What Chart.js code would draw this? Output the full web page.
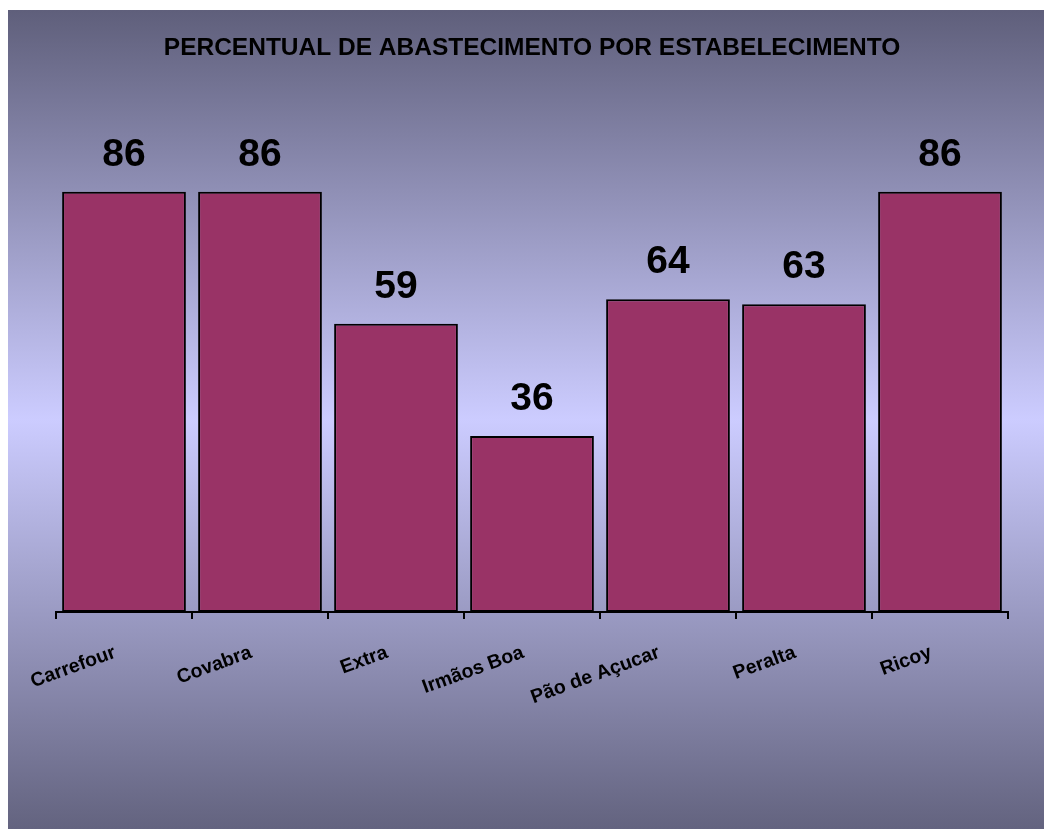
<meta charset="utf-8">
<title>Percentual de abastecimento</title>
<script src=https://cdn.jsdelivr.net/npm/chart.js@4.4.1/dist/chart.umd.min.js></script>
<style>
body{margin:0;background:#fff}
#wrap{position:absolute;left:8px;top:10px;width:1036px;height:819px}
</style>
<div id=wrap><canvas id="myChart"></canvas></div>
<script>
var lojas = ['Carrefour','Covabra','Extra','Irmãos Boa','Pão de Açucar','Peralta','Ricoy'];
var percentual = [86,86,59,36,64,63,86];
var yMin = 0, yMax = 100;

// fundo degradê e rótulos de valor
var fundo = {
  id:'fundo',
  beforeDraw:function(chart){
    var c = chart.ctx, h = chart.height, w = chart.width;
    var g = c.createLinearGradient(0,0,0,h);
    g.addColorStop(0,'#5f5f7b');
    g.addColorStop(0.5,'#ccccff');
    g.addColorStop(1,'#63637f');
    c.save();
    c.fillStyle = g;
    c.fillRect(0,0,w,h);
    c.restore();
  },
  afterDatasetsDraw:function(chart){
    var c = chart.ctx;
    c.save();
    c.font = 'bold 39px "Liberation Sans", Arial, sans-serif';
    c.fillStyle = '#000';
    c.textAlign = 'center';
    c.textBaseline = 'alphabetic';
    chart.getDatasetMeta(0).data.forEach(function(bar,i){
      c.fillText(percentual[i], bar.x, bar.y - 26);
    });
    c.restore();
  }
};

var ctx = document.getElementById('myChart');
var myChart = new Chart(ctx,{
  type:'bar',
  data:{labels:lojas,
    datasets:[{data:percentual,
      backgroundColor:'#993366',
      borderColor:'#000',
      borderWidth:2,
      borderSkipped:false,
      barPercentage:0.91,
      categoryPercentage:1}]},
  options:{
    responsive:true,
    maintainAspectRatio:false,
    animation:false,
    layout:{padding:{left:48,right:36,top:0,bottom:0}},
    plugins:{
      legend:{display:false},
      tooltip:{enabled:false},
      title:{display:true,
        text:'PERCENTUAL DE ABASTECIMENTO POR ESTABELECIMENTO',
        color:'#000',
        font:{family:'"Liberation Sans", Arial, sans-serif',size:24.5,weight:'bold',lineHeight:1.2},
        padding:{top:24,bottom:60}}
    },
    scales:{
      y:{display:false,min:yMin,max:yMax},
      x:{
        border:{display:true,color:'#000',width:2},
        grid:{display:true,drawOnChartArea:false,drawTicks:true,tickLength:7,color:'#000',lineWidth:2},
        ticks:{color:'#000',minRotation:20,maxRotation:20,padding:22,labelOffset:-9,
          font:{family:'"Liberation Sans", Arial, sans-serif',size:19.5,weight:'bold'}},
        afterFit:function(s){ s.height = 217; }
      }
    }
  },
  plugins:[fundo]
});
</script>
